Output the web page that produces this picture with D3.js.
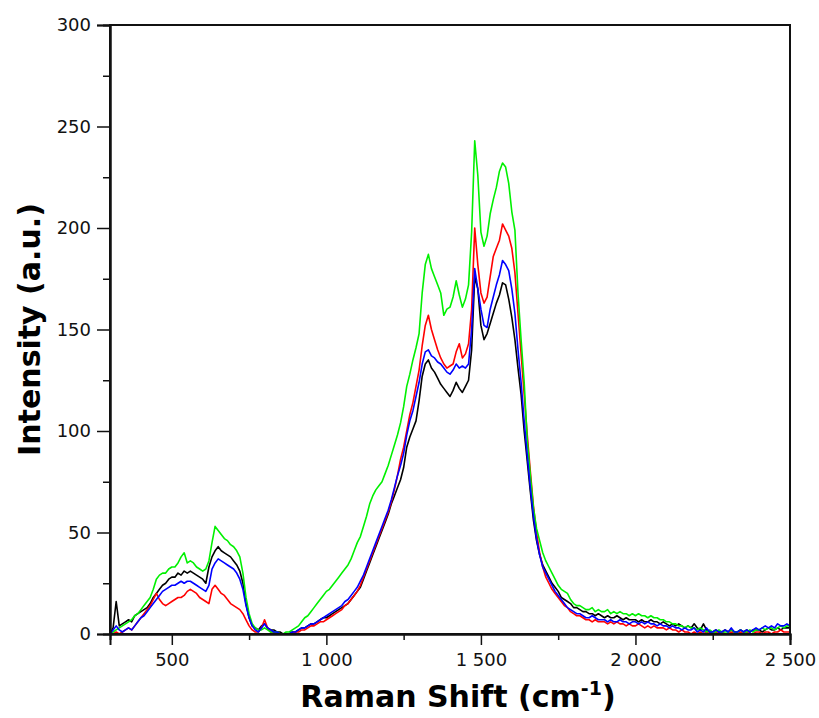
<!DOCTYPE html>
<html lang="en">
<head>
<meta charset="UTF-8">
<title>Raman Spectra</title>
<script src="https://d3js.org/d3.v7.min.js"></script>
<style>
    body { margin: 0; padding: 0; background: #ffffff; }
    svg { display: block; font-family: 'DejaVu Sans', Verdana, sans-serif; }
    .tick-label { font-size: 18px; fill: #111; }
    .axis-title { font-size: 30px; font-weight: bold; fill: #000; }
    .spectrum { fill: none; stroke-width: 1.6; stroke-linejoin: round; }
</style>
</head>
<body>
<svg width="819" height="718"></svg>
<script>
// Raman shift grid (cm-1), one reading every 10 cm-1
const shifts = d3.range(300, 2501, 10);

const blackSeries = [
    0, 3, 16, 4, 5, 6, 7, 6, 9, 10,
    11, 12, 13, 15, 18, 20, 22, 24, 25, 27,
    28, 28, 30, 29, 31, 30, 31, 30, 29, 28,
    27, 25, 33, 38, 41, 43, 41, 40, 39, 38,
    36, 34, 31, 25, 15, 8, 4, 3, 2, 4,
    5, 3, 2, 2, 1, 1, 0, 0, 0, 1,
    1, 2, 3, 3, 4, 5, 5, 6, 7, 8,
    8, 9, 10, 11, 12, 13, 14, 15, 17, 19,
    21, 23, 27, 31, 35, 39, 43, 47, 51, 55,
    59, 64, 68, 72, 76, 82, 92, 97, 101, 105,
    115, 127, 133, 135, 131, 129, 126, 123, 121, 119,
    117, 120, 124, 121, 119, 122, 125, 140, 176, 170,
    152, 145, 148, 153, 158, 163, 167, 173, 172, 165,
    156, 145, 131, 118, 100, 85, 70, 56, 46, 39,
    34, 31, 28, 25, 23, 21, 18, 17, 16, 15,
    13, 13, 12, 11, 11, 10, 10, 9, 10, 9,
    8, 9, 8, 8, 9, 8, 7, 8, 7, 7,
    7, 6, 7, 6, 6, 7, 6, 6, 5, 6,
    5, 4, 5, 4, 5, 4, 3, 4, 3, 5,
    3, 2, 5, 2, 1, 1, 2, 1, 1, 2,
    1, 2, 1, 1, 2, 1, 2, 1, 2, 2,
    2, 1, 2, 3, 2, 2, 3, 2, 3, 3,
    3
];

const redSeries = [
    0, 0, 1, 0, 1, 2, 3, 2, 4, 6,
    8, 10, 12, 14, 17, 20, 17, 15, 14, 15,
    16, 17, 18, 18, 19, 21, 22, 21, 20, 18,
    17, 16, 15, 22, 24, 22, 20, 19, 17, 15,
    14, 13, 12, 10, 7, 4, 2, 1, 1, 3,
    7, 3, 1, 1, 0, 0, 0, 0, 0, 0,
    1, 1, 2, 2, 3, 4, 4, 5, 6, 6,
    7, 8, 9, 10, 11, 12, 14, 15, 17, 19,
    21, 24, 28, 32, 36, 40, 44, 48, 52, 56,
    60, 65, 71, 78, 86, 92, 100, 108, 114, 122,
    130, 142, 152, 157, 150, 145, 140, 136, 133, 131,
    132, 133, 139, 143, 136, 138, 143, 160, 200, 182,
    168, 163, 166, 176, 186, 190, 194, 202, 199, 196,
    190, 178, 158, 138, 118, 98, 80, 63, 50, 40,
    33, 28, 25, 22, 20, 18, 16, 14, 13, 11,
    10, 9, 9, 8, 7, 7, 6, 7, 6, 6,
    6, 5, 6, 5, 6, 5, 5, 4, 5, 4,
    4, 5, 4, 3, 4, 3, 4, 3, 3, 3,
    2, 3, 2, 2, 1, 2, 1, 1, 0, 1,
    0, 1, 0, 1, 0, 0, 1, 0, 1, 0,
    0, 1, 0, 0, 1, 0, 1, 0, 0, 1,
    1, 0, 1, 1, 0, 1, 1, 2, 1, 1,
    1
];

const blueSeries = [
    0, 2, 4, 2, 1, 2, 3, 2, 4, 6,
    8, 9, 11, 13, 15, 17, 19, 21, 22, 23,
    24, 24, 25, 26, 25, 26, 26, 25, 24, 23,
    22, 21, 24, 32, 35, 37, 36, 35, 34, 33,
    32, 30, 27, 22, 14, 8, 4, 2, 1, 3,
    5, 3, 2, 1, 1, 0, 0, 0, 0, 1,
    1, 2, 3, 3, 4, 5, 5, 6, 7, 8,
    9, 10, 11, 12, 13, 14, 16, 17, 19, 21,
    23, 26, 29, 33, 37, 41, 45, 49, 53, 57,
    61, 66, 72, 78, 83, 89, 98, 105, 110, 117,
    124, 133, 139, 140, 137, 136, 134, 133, 131, 129,
    128, 130, 133, 131, 132, 131, 133, 150, 180, 170,
    160, 152, 151, 160, 166, 172, 177, 184, 182, 179,
    170, 158, 140, 124, 105, 88, 72, 58, 47, 39,
    33, 30, 27, 24, 21, 19, 17, 15, 13, 12,
    11, 10, 10, 9, 8, 8, 9, 8, 7, 7,
    7, 6, 7, 6, 6, 7, 6, 6, 5, 6,
    6, 5, 6, 5, 6, 5, 5, 4, 5, 4,
    4, 3, 4, 3, 3, 2, 3, 2, 2, 3,
    1, 2, 1, 3, 1, 1, 2, 1, 1, 2,
    1, 3, 1, 1, 2, 1, 2, 1, 2, 3,
    2, 3, 4, 3, 4, 3, 5, 4, 4, 5,
    4
];

const greenSeries = [
    0, 1, 2, 3, 4, 5, 6, 7, 9, 10,
    12, 14, 16, 18, 22, 27, 29, 30, 30, 32,
    33, 33, 35, 38, 40, 35, 36, 35, 33, 32,
    31, 32, 36, 45, 53, 51, 49, 47, 46, 44,
    43, 41, 38, 30, 18, 10, 5, 3, 2, 2,
    3, 2, 1, 1, 1, 0, 0, 1, 1, 2,
    3, 4, 6, 8, 9, 11, 13, 15, 17, 19,
    21, 22, 24, 26, 28, 30, 32, 34, 37, 41,
    45, 48, 53, 58, 64, 68, 71, 73, 75, 79,
    83, 88, 93, 98, 104, 112, 122, 128, 135, 141,
    148, 168, 182, 187, 180, 176, 172, 168, 157, 160,
    161, 166, 174, 167, 161, 165, 172, 198, 243, 226,
    198, 191, 196, 207, 214, 220, 228, 232, 230, 222,
    208, 199, 168, 145, 124, 95, 78, 62, 52, 46,
    40, 36, 33, 30, 27, 24, 22, 21, 20, 17,
    15, 14, 14, 13, 12, 12, 13, 11, 12, 11,
    11, 12, 10, 11, 10, 11, 10, 10, 9, 10,
    9, 10, 9, 9, 8, 9, 8, 8, 7, 7,
    6, 6, 5, 5, 4, 4, 3, 4, 3, 3,
    2, 3, 2, 1, 2, 1, 1, 2, 1, 1,
    1, 2, 1, 1, 2, 1, 1, 2, 1, 2,
    2, 3, 2, 3, 3, 2, 3, 4, 3, 4,
    4
];

const seriesList = [
    { name: "black", color: "#000000", values: blackSeries },
    { name: "red", color: "#ff0000", values: redSeries },
    { name: "green", color: "#00f000", values: greenSeries },
    { name: "blue", color: "#0000ff", values: blueSeries }
];

const xMajorTicks = [500, 1000, 1500, 2000, 2500];
const xMinorTicks = [750, 1250, 1750, 2250];
const yMajorTicks = [0, 50, 100, 150, 200, 250, 300];
const yMinorTicks = [25, 75, 125, 175, 225, 275];

const svg = d3.select("svg");
const margin = { top: 25, right: 29, bottom: 84, left: 110 };
const width = +svg.attr("width");
const height = +svg.attr("height");

const x = d3.scaleLinear()
    .domain([300, 2500])
    .range([margin.left, width - margin.right]);

const y = d3.scaleLinear()
    .domain([0, 300])
    .range([height - margin.bottom, margin.top]);

// spectra
const line = d3.line()
    .x((d, i) => x(shifts[i]))
    .y(d => y(d));

svg.selectAll("path.spectrum")
    .data(seriesList)
    .enter()
    .append("path")
    .attr("class", "spectrum")
    .attr("stroke", d => d.color)
    .attr("d", d => line(d.values));

// frame
svg.append("rect")
    .attr("x", margin.left)
    .attr("y", margin.top)
    .attr("width", width - margin.left - margin.right)
    .attr("height", height - margin.top - margin.bottom)
    .attr("fill", "none")
    .attr("stroke", "#111")
    .attr("stroke-width", 2);

const fmt = v => d3.format(",")(v).replace(",", " ");

// x axis
svg.append("g")
    .attr("transform", `translate(0,${height - margin.bottom})`)
    .call(d3.axisBottom(x).tickValues(xMajorTicks).tickSize(11).tickPadding(8).tickFormat(fmt));

svg.append("g")
    .attr("transform", `translate(0,${height - margin.bottom})`)
    .call(d3.axisBottom(x).tickValues(xMinorTicks).tickSize(6).tickFormat(""));

// y axis
svg.append("g")
    .attr("transform", `translate(${margin.left},0)`)
    .call(d3.axisLeft(y).tickValues(yMajorTicks).tickSize(13).tickPadding(6));

svg.append("g")
    .attr("transform", `translate(${margin.left},0)`)
    .call(d3.axisLeft(y).tickValues(yMinorTicks).tickSize(7).tickFormat(""));

svg.selectAll(".domain").attr("stroke", "#111").attr("stroke-width", 2);
svg.selectAll(".tick line").attr("stroke", "#111").attr("stroke-width", 1.5);
svg.selectAll(".tick text")
    .attr("class", "tick-label")
    .style("font-family", "'DejaVu Sans', Verdana, sans-serif");

// axis titles
const xTitle = svg.append("text")
    .attr("class", "axis-title")
    .attr("x", 458)
    .attr("y", 707)
    .attr("text-anchor", "middle");
xTitle.append("tspan").text("Raman Shift (cm");
xTitle.append("tspan").attr("font-size", "19px").attr("dy", -12).text("-1");
xTitle.append("tspan").attr("dy", 12).text(")");

svg.append("text")
    .attr("class", "axis-title")
    .attr("transform", `translate(40,${(margin.top + height - margin.bottom) / 2}) rotate(-90)`)
    .attr("text-anchor", "middle")
    .text("Intensity (a.u.)");
</script>
</body>
</html>
